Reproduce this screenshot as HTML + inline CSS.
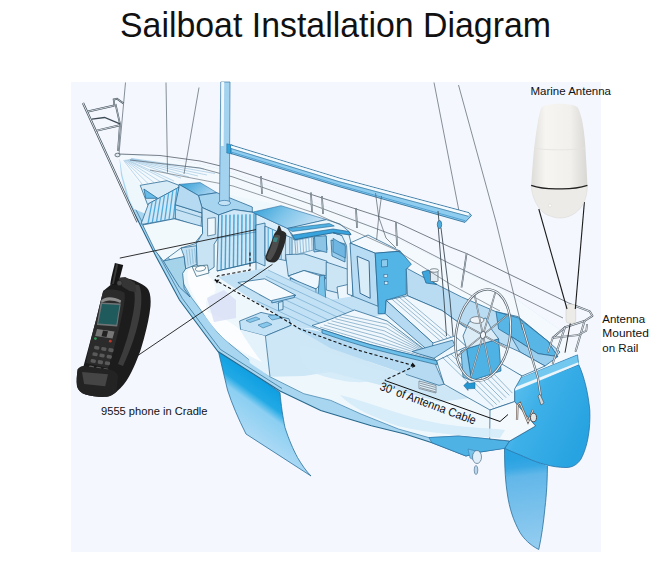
<!DOCTYPE html>
<html><head><meta charset="utf-8">
<style>
html,body{margin:0;padding:0;background:#fff;}
body{width:651px;height:568px;overflow:hidden;font-family:"Liberation Sans",sans-serif;}
svg{display:block;}
text{font-family:"Liberation Sans",sans-serif;fill:#111;}
</style></head><body>
<svg width="651" height="568" viewBox="0 0 651 568">
<defs>
<linearGradient id="gKeel" gradientUnits="userSpaceOnUse" x1="250" y1="370.9" x2="215" y2="419.5">
<stop offset="0" stop-color="#0f9fe2"/><stop offset="0.27" stop-color="#21a9e5"/><stop offset="0.42" stop-color="#8bcff2"/><stop offset="1" stop-color="#b4dcf5"/>
</linearGradient>
<linearGradient id="gRud" gradientUnits="userSpaceOnUse" x1="520" y1="458" x2="531" y2="549">
<stop offset="0" stop-color="#2aa3e2"/><stop offset="0.1" stop-color="#38a8e4"/><stop offset="0.2" stop-color="#62b7e9"/><stop offset="1" stop-color="#95cdf0"/>
</linearGradient>
<linearGradient id="gStern" x1="0" y1="0" x2="1" y2="0.6">
<stop offset="0" stop-color="#6cc6f0"/><stop offset="0.45" stop-color="#3db0e8"/><stop offset="1" stop-color="#27a3e1"/>
</linearGradient>
<linearGradient id="gAnt" x1="0" y1="0" x2="1" y2="0">
<stop offset="0" stop-color="#dedcd8"/><stop offset="0.25" stop-color="#f6f5f2"/><stop offset="0.7" stop-color="#f2f0ed"/><stop offset="1" stop-color="#d9d7d3"/>
</linearGradient>
<linearGradient id="gRoof1" x1="0" y1="0" x2="1" y2="0.4">
<stop offset="0" stop-color="#2f9ed6"/><stop offset="1" stop-color="#a5d3f0"/>
</linearGradient>
<linearGradient id="gRoof2" x1="0" y1="0" x2="1" y2="0.3">
<stop offset="0" stop-color="#2f9ed6"/><stop offset="0.5" stop-color="#80c5ea"/><stop offset="1" stop-color="#c2e0f4"/>
</linearGradient>
</defs>
<!-- BG -->
<rect x="71" y="82" width="530" height="470" fill="#f4f7fe"/>
<!-- TITLE -->
<text x="120" y="37" font-size="34.5" textLength="431" lengthAdjust="spacingAndGlyphs">Sailboat Installation Diagram</text>
<!-- LABELS -->
<text x="530.5" y="95" font-size="11" textLength="80.5" lengthAdjust="spacingAndGlyphs">Marine Antenna</text>
<text x="602.3" y="322.7" font-size="10.8" textLength="42.8" lengthAdjust="spacingAndGlyphs">Antenna</text>
<text x="602.3" y="337" font-size="10.8" textLength="46.5" lengthAdjust="spacingAndGlyphs">Mounted</text>
<text x="602.3" y="351.5" font-size="10.8" textLength="36" lengthAdjust="spacingAndGlyphs">on Rail</text>
<text x="101" y="415.4" font-size="11.2" textLength="106.5" lengthAdjust="spacingAndGlyphs">9555 phone in Cradle</text>
<!-- KEEL -->
<g id="keel">
<path d="M217.5,347.5 L280,392.5 C281,405 283,418 285,427.5 C289,440 293,449 297.5,457.5 C302,465 306,471 311,476 L246,434 C238,418 232,404 227.5,390 Z" fill="url(#gKeel)" stroke="#2a6f9a" stroke-width="0.8"/>
</g>
<!-- RUDDER -->
<g id="rudder">
<path d="M504.5,447 L547.5,458 C547.5,480 546.5,495 545,507.5 C543.5,523 541.5,537 538.75,549.5 C530,545 524,539 520,532.5 C513,520 509.5,508 507.5,495 C505.5,482 504.5,469 504.5,447 Z" fill="url(#gRud)" stroke="#2a6f9a" stroke-width="0.8"/>
</g>
<!-- HULL -->
<g id="hull">
<!-- outer band -->
<path d="M119,154 L121,175 L127.7,200 L155.5,255.5 L179.5,300 L207,337 L218,351.5 L280,391 L320.7,410.5 L371.4,425.8 L405,434 L432,442.7 L466,456 L480,452 L505,448 L527,458 L546.7,465.7 L566,467 L578.7,460 L587.3,438.6 L589.3,414 L586.5,389.3 L578.7,364.6 L577.5,354.8 L560,330 L503,290 L440,260 L400,240 L330,208 L241,176 L220,169 L188,162 L153,156.5 Z" fill="#a8d6f1"/>
<path d="M127.7,200 L155.5,255.5 L179.5,300 L207,337 L218,351.5 L280,391 L320.7,410.5 L371.4,425.8 L405,434 L432,442.7 L466,456 L480,452 L505,448" fill="none" stroke="#28688c" stroke-width="1.1"/>
<path d="M130.5,199 L158.3,254.3 L182.2,298.3 L209.5,335 L220.5,349.5 L282,388.5" fill="none" stroke="#28688c" stroke-width="0.7"/>
<!-- inner light area -->
<path d="M119,154 L122.5,176 L129.5,200 L134,209 L146,214 L167,255 L191,297 L218,333 L231,345 L270,376.8 L303.8,393.7 L330.8,400.4 L361,414 L398.4,429 L428.8,437.6 L459,436 L489.7,439 L509.7,441 L535.6,426 L514.6,404 L514.6,389 L509.7,382 L560,352 L577.5,354.8 L560,330 L503,290 L440,260 L400,240 L330,208 L241,176 L220,169 L188,162 L153,156.5 Z" fill="#eef7fc"/>
<path d="M146,214 L167,255 L191,297 L218,333 L231,345 L270,376.8 L303.8,393.7 L330.8,400.4 L361,414 L398.4,429 L428.8,437.6 L459,436 L489.7,439 L509.7,441" fill="none" stroke="#3a7ca8" stroke-width="0.7"/>
<!-- darker band near prop -->
<path d="M428.8,437.6 L459,436 L489.7,439 L509.7,441 L504.8,448.4 L480,452 L466,456 L432,442.7 Z" fill="#4eb2e4" stroke="#2a72a8" stroke-width="0.6"/>
<!-- prop -->
<path d="M468,449 L480,452 L478,462 L470,458 Z" fill="#78c3ea" stroke="#2a72a8" stroke-width="0.5"/>
<ellipse cx="477" cy="457" rx="4.5" ry="6.5" fill="#dfeef8" stroke="#4a6a85" stroke-width="0.7"/>
<ellipse cx="476" cy="470" rx="1.8" ry="4.5" fill="#b9d7ec" stroke="#4a6a85" stroke-width="0.6"/>
<!-- stern -->
<path d="M514.6,389.3 L578.7,364.6 C584,376 588,392 589.8,410 C590.5,428 588,446 581,459 C577,465 572,467.5 566,467.5 C552,467.5 538,463 527,458 C518,454 510,451 504.8,448.4 L509.7,441 L535.6,426 L514.6,401.6 Z" fill="url(#gStern)" stroke="#2a72a8" stroke-width="0.8"/>
<path d="M509.7,381.9 L577.5,354.8 L578.7,364.6 L514.6,389.3 Z" fill="#73c8f0" stroke="#2a72a8" stroke-width="0.7"/>
<path d="M513,388 L578.3,362.3 L578.7,364.6 L514.6,391 Z" fill="#eaf5fc"/>
</g>
<!-- INTERIOR -->
<g id="interior">
<path d="M116,155 L153,156.5 L188,162 L220,169 L241,176 L330,208 L400,240 L440,260 L503,290 L560,330 L578,354 L510,382 L440,330 L350,243 L281,205.7 L179,184.4 L167,180.7 L140.2,185.3 Z" fill="#f3f9fd"/>
<path d="M123.52,160.24 L142,184" fill="none" stroke="#8bbcdc" stroke-width="0.55"/>
<path d="M124.24,160.18 L148,183.5" fill="none" stroke="#8bbcdc" stroke-width="0.55"/>
<path d="M124.96,160.06 L154,182.5" fill="none" stroke="#8bbcdc" stroke-width="0.55"/>
<path d="M125.68,159.94 L160,181.5" fill="none" stroke="#8bbcdc" stroke-width="0.55"/>
<path d="M126.52,159.82 L167,180.5" fill="none" stroke="#8bbcdc" stroke-width="0.55"/>
<path d="M127.36,159.88 L174,181" fill="none" stroke="#8bbcdc" stroke-width="0.55"/>
<path d="M128.2,159.52 L181,178" fill="none" stroke="#8bbcdc" stroke-width="0.55"/>
<path d="M129.16,159.4 L189,177" fill="none" stroke="#8bbcdc" stroke-width="0.55"/>
<path d="M130.24,159.28 L198,176" fill="none" stroke="#8bbcdc" stroke-width="0.55"/>
<path d="M131.32,159.16 L207,175" fill="none" stroke="#8bbcdc" stroke-width="0.55"/>
<path d="M132.28,158.98 L215,173.5" fill="none" stroke="#8bbcdc" stroke-width="0.55"/>
<path d="M130.96,158.44 L204,169" fill="none" stroke="#8bbcdc" stroke-width="0.55"/>
<path d="M140.2,185.3 L167,180.7 L179,185.3 L179,187.2 L148.5,203.8 L147.6,204.7 Z" fill="#d8ecf8" stroke="#24648f" stroke-width="0.75"/>
<path d="M143.9,189 L157.7,198.3 L145.7,198.3 Z" fill="#66bce8" stroke="#24648f" stroke-width="0.75"/>
<path d="M148.5,203.8 L179,187.2 L175.3,218.6 L143.9,224.1 L141,224 Z" fill="#cfe7f6" stroke="#24648f" stroke-width="0.75"/>
<path d="M152.1,201.9 L148.1,223.2" fill="none" stroke="#4fabdc" stroke-width="1.3"/>
<path d="M156.2,199.7 L152.3,222.4" fill="none" stroke="#4fabdc" stroke-width="1.3"/>
<path d="M160.4,197.5 L156.5,221.8" fill="none" stroke="#4fabdc" stroke-width="1.3"/>
<path d="M164.5,195.2 L160.7,221.1" fill="none" stroke="#4fabdc" stroke-width="1.3"/>
<path d="M168.6,193.0 L164.8,220.3" fill="none" stroke="#4fabdc" stroke-width="1.3"/>
<path d="M172.8,190.8 L169.0,219.7" fill="none" stroke="#4fabdc" stroke-width="1.3"/>
<path d="M176.9,188.6 L173.2,218.9" fill="none" stroke="#4fabdc" stroke-width="1.3"/>
<path d="M175.3,204.7 L202,213 L201,227 L175.3,218.6 Z" fill="#c6e3f5" stroke="#24648f" stroke-width="0.75"/>
<path d="M176,209.5 L202,217.5" fill="none" stroke="#24648f" stroke-width="0.6"/>
<path d="M142.7,225 L174.2,218.8 L202.6,226.5 L202.6,233.4 L196.4,241.1 L196.4,243.4 L181,248 L163.4,261 L155,250.3 Z" fill="#f2f9fd" stroke="#24648f" stroke-width="0.75"/>
<path d="M163.4,261 L184.2,256.5 L185.7,268.8 L182.6,273.4 L184.2,288.7 L190,297 L179.5,287.2 L170,272 Z" fill="#a5d3ea" stroke="#24648f" stroke-width="0.75"/>
<path d="M181,248 L196.4,245.7 L197.2,264.2 L185.7,268.8 L184.2,256.5 Z" fill="#c3e1f2" stroke="#24648f" stroke-width="0.75"/>
<path d="M186.4,249.8 L188.2,265.6" fill="none" stroke="#6fa9cc" stroke-width="0.6"/>
<path d="M189.1,249.2 L190.8,264.7" fill="none" stroke="#6fa9cc" stroke-width="0.6"/>
<path d="M191.9,248.8 L193.2,263.8" fill="none" stroke="#6fa9cc" stroke-width="0.6"/>
<path d="M194.6,248.2 L195.8,262.9" fill="none" stroke="#6fa9cc" stroke-width="0.6"/>
<path d="M179,184.4 L200.2,182.6 L216.9,192.7 L198.4,195.5 Z" fill="url(#gRoof1)" stroke="#2f6f9f" stroke-width="0.6"/>
<path d="M198.4,195.5 L216.9,192.7 L252.3,207 L252.3,212.2 L234,209.5 L218.7,215 L202,207.5 Z" fill="#a7d4ef" stroke="#24648f" stroke-width="0.75"/>
<path d="M179,184.4 L198.4,195.5 L202,207.5 L202,213 L175.3,204.7 L179,187.2 Z" fill="#b5daf2" stroke="#24648f" stroke-width="0.75"/>
<path d="M202,207.5 L218.7,215 L218,238 L214.1,244.2 L214.1,267.2 L207.2,271.8 L197.2,265.7 L196.4,243.4 L202.6,233.4 Z" fill="#c8e3f4" stroke="#24648f" stroke-width="0.75"/>
<path d="M207.6,218.4 L215.3,217.6 L215.3,234.5 L207.6,236 Z" fill="#eef7fc" stroke="#4a7a98" stroke-width="0.8"/>
<path d="M218.7,215 L234,209.5 L252.3,212.2 L256,214 L256,262 L217,271 Z" fill="#cfe7f6" stroke="#24648f" stroke-width="0.75"/>
<path d="M222.0,214.9 L221.1,269.6" fill="none" stroke="#43a4d8" stroke-width="1.4"/>
<path d="M226.0,214.8 L225.2,268.7" fill="none" stroke="#43a4d8" stroke-width="1.4"/>
<path d="M230.0,214.7 L229.3,267.8" fill="none" stroke="#43a4d8" stroke-width="1.4"/>
<path d="M234.0,214.6 L233.4,266.9" fill="none" stroke="#43a4d8" stroke-width="1.4"/>
<path d="M238.0,214.5 L237.5,266.0" fill="none" stroke="#43a4d8" stroke-width="1.4"/>
<path d="M242.0,214.4 L241.6,265.1" fill="none" stroke="#43a4d8" stroke-width="1.4"/>
<path d="M246.0,214.3 L245.7,264.2" fill="none" stroke="#43a4d8" stroke-width="1.4"/>
<path d="M250.0,214.2 L249.8,263.3" fill="none" stroke="#43a4d8" stroke-width="1.4"/>
<path d="M254.0,214.1 L253.9,262.4" fill="none" stroke="#43a4d8" stroke-width="1.4"/>
<path d="M217,271 L256,262" fill="none" stroke="#24648f" stroke-width="0.7"/>
<path d="M218,238 L256,232" fill="none" stroke="#24648f" stroke-width="0.5"/>
<path d="M256,214 L288.4,228.8 L294,240 L340,230 L350,243 L353.1,296.3 L320,312 L300,320 L256,300 Z" fill="#dceef9" stroke="#24648f" stroke-width="0.75"/>
<path d="M256,225 L265,223 L265,266 L256,262 Z" fill="#bfe0f4" stroke="#24648f" stroke-width="0.75"/>
<path d="M265,226 L292,238 L292,262 L265,256 Z" fill="#cfe7f6" stroke="#24648f" stroke-width="0.75"/>
<path d="M268.2,227.9 L268.2,255.6" fill="none" stroke="#4fabdc" stroke-width="1.1"/>
<path d="M272.5,229.8 L272.5,256.8" fill="none" stroke="#4fabdc" stroke-width="1.1"/>
<path d="M276.8,231.6 L276.8,257.9" fill="none" stroke="#4fabdc" stroke-width="1.1"/>
<path d="M281.2,233.4 L281.2,259.1" fill="none" stroke="#4fabdc" stroke-width="1.1"/>
<path d="M285.5,235.2 L285.5,260.2" fill="none" stroke="#4fabdc" stroke-width="1.1"/>
<path d="M289.8,237.1 L289.8,261.4" fill="none" stroke="#4fabdc" stroke-width="1.1"/>
<path d="M313,238 L326,236 L327,250 L314,252 Z" fill="#9acdec" stroke="#24648f" stroke-width="0.75"/>
<path d="M331,240 L345,244 L345,262 L332,256 Z" fill="#9acdec" stroke="#24648f" stroke-width="0.75"/>
<path d="M285.5,254.7 L304,253.8 L327,261.2 L326.2,276 L304,270.5 L288.3,276 Z" fill="#c9e4f5" stroke="#24648f" stroke-width="0.75"/>
<path d="M288.3,276 L304,270.5 L326.2,277.8 L316,289 L300,283 Z" fill="#eef7fd" stroke="#24648f" stroke-width="0.75"/>
<path d="M290,278 L316,289 L316,300 L292,287 Z" fill="#b5daf2" stroke="#24648f" stroke-width="0.75"/>
<path d="M319.7,276 L324.3,275 L326.2,307.4 L310.5,319.8 L308.6,307.4 L317.8,296.3 Z" fill="#78c3ea" stroke="#24648f" stroke-width="0.75"/>
<path d="M326.2,262 L350,270 L350,296 L326.2,290 Z" fill="#cbe5f5" stroke="#24648f" stroke-width="0.75"/>
<path d="M337,287 L350,284 L352,300 L339,303 Z" fill="#eef7fd" stroke="#24648f" stroke-width="0.75"/>
<path d="M218,276.9 L250,271 L263.2,268.3 L299.6,284 L330,300 L353.1,296.3 L378.2,306.3 L385,313.7 L330,330 L299.6,327.4 L260,305 Z" fill="#c2e1f5"/>
<path d="M268.0,270.0 L354.0,310.4" fill="none" stroke="#5f9cc4" stroke-width="0.55"/>
<path d="M265.8,276.2 L351.8,316.6" fill="none" stroke="#5f9cc4" stroke-width="0.55"/>
<path d="M263.6,282.4 L349.6,322.8" fill="none" stroke="#5f9cc4" stroke-width="0.55"/>
<path d="M261.4,288.6 L347.4,329.0" fill="none" stroke="#5f9cc4" stroke-width="0.55"/>
<path d="M259.2,294.8 L345.2,335.2" fill="none" stroke="#5f9cc4" stroke-width="0.55"/>
<path d="M257.0,301.0 L343.0,341.4" fill="none" stroke="#5f9cc4" stroke-width="0.55"/>
<path d="M237.9,282.5 L264.6,278.8 L296,295.4 L273,301.9 Z" fill="#f4fafe" stroke="#24648f" stroke-width="0.75"/>
<path d="M271.8,300.5 L294.4,295.2 L294.4,297.5 L271.8,303 Z" fill="#a5d3f0" stroke="#24648f" stroke-width="0.75"/>
<path d="M278.5,302.5 L283,301.3 L283,309.5 L278.5,310.5 Z" fill="#cfe7f6" stroke="#24648f" stroke-width="0.75"/>
<path d="M239.6,321 L261,312.4 L289,318.8 L291.2,325.3 L265.4,336 L240.6,329.6 Z" fill="#c4e2f5" stroke="#24648f" stroke-width="0.75"/>
<path d="M265.4,336 L291.2,325.3 L330,335 L368.7,361.7 L418.2,378.9 L444,385.4 L470,398 L440,402 L380,385 L330,372 L303.8,376 L270,376.8 Z" fill="#cde7f6"/>
<path d="M265.4,336 L291.2,325.3" fill="none" stroke="#24648f" stroke-width="0.7"/>
<path d="M240.6,329.6 L265.4,336 L270,376.8 L250,363 Z" fill="#e3f2fb"/>
<path d="M265.4,336 L270,376.8" fill="none" stroke="#24648f" stroke-width="0.7"/>
<path d="M246,320.5 L256,317 L260,319 L250,322.5 Z" fill="#87c8ec" stroke="#24648f" stroke-width="0.5"/>
<path d="M258,325 L267,322 L272,324.5 L263,328 Z" fill="#87c8ec" stroke="#24648f" stroke-width="0.5"/>
<path d="M268,316 L277,314.5 L281,318 L272,320 Z" fill="#87c8ec" stroke="#24648f" stroke-width="0.5"/>
<path d="M188,270 C195,266 205,268 208,276 C214,280 218,288 214,294 C206,296 204,304 208,312 C218,316 232,322 240,330 C246,340 254,352 262,362 C252,358 240,350 228,342 C214,330 204,316 196,300 C190,290 186,280 188,270 Z" fill="#fbfdff"/>
<path d="M207,298 L224,290 L236,300 L236,318 L214,322 Z" fill="#d9dff5" opacity="0.8"/>
<path d="M192,266.5 L207.5,265 L209,273 L196.5,276.5 Z" fill="#f6fbfe" stroke="#3a6a80" stroke-width="0.8"/>
<ellipse cx="200.5" cy="268.5" rx="5.2" ry="2.6" fill="#fdfefe" stroke="#3a6a80" stroke-width="0.7" transform="rotate(-8 200.5 268.5)"/>
<path d="M252.3,212.2 L281,205.7 L326.3,219.6 L288.4,228.8 Z" fill="url(#gRoof2)" stroke="#2f6f9f" stroke-width="0.6"/>
<path d="M287.4,228.4 L326.3,219.6 L340,224 L349,231.5 L350.9,234.6 L341.7,235.2 L333,232.7 L294.8,239.5 L292,234 Z" fill="#eaf5fc" stroke="#24648f" stroke-width="0.75"/>
<path d="M287.4,228.4 L329.3,223.5 L334.3,226 L292.3,231.5 Z" fill="#4fb0e2" stroke="#24648f" stroke-width="0.6"/>
<path d="M292.3,235.2 L333,229 L349,231.5 L350.9,234.6 L341.7,235.2 L333,232.7 L294.8,239.5 Z" fill="#38a3dd" stroke="#24648f" stroke-width="0.7"/>
<path d="M333,232.7 L341.7,235.2 L346.6,245.7 L347.2,259.3 L347.4,294 L353,296 L351,243 L349,234.8 Z" fill="#e8f4fb" stroke="#24648f" stroke-width="0.75"/>
<path d="M333,238.3 L345.3,245.7 L345.3,258 L333,251.9 Z" fill="#6fb6e2" stroke="#24648f" stroke-width="0.6"/>
<path d="M314.5,236.4 L326.2,235.8 L326.9,252.5 L315.1,249.4 Z" fill="#8cc4e6" stroke="#24648f" stroke-width="0.7"/>
<path d="M294.8,240.5 L313,237 L313.5,250 L296,254.5 Z" fill="#e3f1fa" stroke="#24648f" stroke-width="0.5"/>
<path d="M297.0,240.1 L297.9,253.9" fill="none" stroke="#5a9cc8" stroke-width="0.6"/>
<path d="M299.9,239.6 L300.8,253.2" fill="none" stroke="#5a9cc8" stroke-width="0.6"/>
<path d="M302.8,239.0 L303.6,252.5" fill="none" stroke="#5a9cc8" stroke-width="0.6"/>
<path d="M305.7,238.4 L306.4,251.8" fill="none" stroke="#5a9cc8" stroke-width="0.6"/>
<path d="M308.6,237.8 L309.2,251.1" fill="none" stroke="#5a9cc8" stroke-width="0.6"/>
<path d="M311.5,237.3 L312.1,250.4" fill="none" stroke="#5a9cc8" stroke-width="0.6"/>
<path d="M350,243 L368,235 L400.2,251.2 L375.2,253.2 Z" fill="#f3f9fd" stroke="#24648f" stroke-width="0.75"/>
<path d="M350,243 L375.2,253.2 L378.2,306.3 L353.1,296.3 Z" fill="#b8dcf3" stroke="#24648f" stroke-width="0.75"/>
<path d="M357.1,256.2 L369.1,261.2 L370.2,298.3 L360.1,293.3 Z" fill="#d9edf9" stroke="#2a5f8a" stroke-width="0.9"/>
<path d="M375.2,253.2 L400.2,251.2 L411.3,264.2 L406.3,269.2 L406.3,294.3 L386.2,300.3 L385.2,313.7 L378.2,313.7 L378.2,306.3 Z" fill="#53b5e6" stroke="#24648f" stroke-width="0.75"/>
<rect x="381.5" y="260" width="6" height="7" fill="#8acbee" stroke="#2a5f8a" stroke-width="0.6" transform="skewY(-5)" transform-origin="381.5 260"/>
<rect x="384" y="274.5" width="3.4" height="3" fill="#cfe7f6" stroke="#2a5f8a" stroke-width="0.5"/>
<rect x="384.5" y="281.5" width="3.4" height="3" fill="#cfe7f6" stroke="#2a5f8a" stroke-width="0.5"/>
<path d="M407.4,268.6 L439.4,285.8 L461.6,297 L496,311.7 L518,316.6 L548,341.3 L560,352 L555.7,357 L510,382 L470,350 L464,326.5 L442,310.5 L407.4,295.7 L406.3,269.2 Z" fill="#b9dcf3" stroke="#24648f" stroke-width="0.75"/>
<path d="M496,311.7 L518.3,317.9 L548,341.3 L557.8,356.6 L538,353.6 L511,336.4 L498.6,329 Z" fill="#57b6e6" stroke="#24648f" stroke-width="0.75"/>
<path d="M511,336.4 L538,353.6 L557.8,356.6 L545,366 L520,352 Z" fill="#99ceee" stroke="#24648f" stroke-width="0.75"/>
<path d="M386.2,300.3 L407.4,295.7 L442,310.5 L464,326.5 L520,352 L545,366 L522,376 L470,350 L455,336 L433,343 Z" fill="#f1f8fd" stroke="#24648f" stroke-width="0.75"/>
<path d="M391.9,299.1 L439.9,340.4" fill="none" stroke="#4d86ad" stroke-width="0.55"/>
<path d="M395.6,298.3 L443.6,339.3" fill="none" stroke="#4d86ad" stroke-width="0.55"/>
<path d="M399.4,297.4 L447.4,338.2" fill="none" stroke="#4d86ad" stroke-width="0.55"/>
<path d="M403.1,296.6 L451.1,337.1" fill="none" stroke="#4d86ad" stroke-width="0.55"/>
<path d="M386.2,300.3 L433,343 L431,353 L385.2,313.7 Z" fill="#b5daf2" stroke="#24648f" stroke-width="0.75"/>
<path d="M312,325.5 L326,321 L354.4,310 L387,320.9 L429,353 L436.6,360.8 L400,352 L370,344.5 L345,337 L322,329.5 Z" fill="#f1f8fd" stroke="#24648f" stroke-width="0.75"/>
<path d="M343.1,314.6 L387.3,324.2 L429.5,353.5" fill="none" stroke="#4d86ad" stroke-width="0.55"/>
<path d="M339.2,316.7 L385.9,327.5 L430.5,354.6" fill="none" stroke="#4d86ad" stroke-width="0.55"/>
<path d="M335.4,318.7 L384.4,330.9 L431.5,355.6" fill="none" stroke="#4d86ad" stroke-width="0.55"/>
<path d="M331.5,320.8 L383.0,334.2 L432.5,356.6" fill="none" stroke="#4d86ad" stroke-width="0.55"/>
<path d="M327.6,322.9 L381.6,337.6 L433.5,357.7" fill="none" stroke="#4d86ad" stroke-width="0.55"/>
<path d="M323.8,324.9 L380.1,341.0 L434.5,358.7" fill="none" stroke="#4d86ad" stroke-width="0.55"/>
<path d="M319.9,327.0 L378.7,344.3 L435.5,359.8" fill="none" stroke="#4d86ad" stroke-width="0.55"/>
<path d="M412,351.5 L452.6,340.2 L454.7,345 L434,358.3 L419.3,354 Z" fill="#a5d3f0" stroke="#24648f" stroke-width="0.75"/>
<path d="M436.6,360.8 L470,345 L522,376 L514.6,389 L514.6,401.6 L490,410 L444,384.2 Z" fill="#eef7fd" stroke="#24648f" stroke-width="0.75"/>
<path d="M442.1,357.1 L493.6,406.9" fill="none" stroke="#4d86ad" stroke-width="0.55"/>
<path d="M446.4,355.4 L496.7,404.6" fill="none" stroke="#4d86ad" stroke-width="0.55"/>
<path d="M450.7,353.7 L499.9,402.3" fill="none" stroke="#4d86ad" stroke-width="0.55"/>
<path d="M455.0,352.0 L503.0,400.0" fill="none" stroke="#4d86ad" stroke-width="0.55"/>
<path d="M459.3,350.3 L506.1,397.7" fill="none" stroke="#4d86ad" stroke-width="0.55"/>
<path d="M463.6,348.6 L509.3,395.4" fill="none" stroke="#4d86ad" stroke-width="0.55"/>
<path d="M467.9,346.9 L512.4,393.1" fill="none" stroke="#4d86ad" stroke-width="0.55"/>
<path d="M466.6,348.7 L498.6,338.8 L501,370.9 L471.5,380.7 Z" fill="#4eb2e4" stroke="#24648f" stroke-width="0.75"/>
<path d="M466.6,348.7 L471.5,380.7 L463,377 L461,351 Z" fill="#87c8ec" stroke="#24648f" stroke-width="0.75"/>
<path d="M469,322 L486,318 L492,330 L498.6,338.8 L466.6,348.7 L463,336 Z" fill="#dcecf6" stroke="#24648f" stroke-width="0.75"/>
<ellipse cx="477" cy="320" rx="7" ry="3.4" fill="#eef3f7" stroke="#55606a" stroke-width="0.7"/>
<path d="M291.2,325.3 L299.6,327.4 L322,332 L345,340 L370,348 L400,355.5 L435.4,364.5 L444,384.2 L439,385.4 L405.8,374.3 L370,362 L330,348 Z" fill="#b5daf2"/>
<path d="M435.4,364.5 L444,384.2 L439,385.4 L405.8,374.3" fill="none" stroke="#24648f" stroke-width="0.7"/>
<path d="M322,329.5 L345,337 L370,344.5 L400,352 L436.6,360.8 L437.2,364.8 L400,355.8 L370,348.2 L345,340.6 L322,333 Z" fill="#6cc0ea" stroke="#24648f" stroke-width="0.7"/>
<path d="M419,381 L436,385.5 L436,393 L419,388.5 Z" fill="#dfeff9" stroke="#55606a" stroke-width="0.6"/>
<path d="M420,383.2 L435.5,387.4" fill="none" stroke="#55606a" stroke-width="0.6"/>
<path d="M420,385.4 L435.5,389.59999999999997" fill="none" stroke="#55606a" stroke-width="0.6"/>
<path d="M420,387.59999999999997 L435.5,391.79999999999995" fill="none" stroke="#55606a" stroke-width="0.6"/>
<path d="M422,272 L429,270 L433,282 L437,284.5 L426,283 Z" fill="#3ca5dc" stroke="#24648f" stroke-width="0.75"/>
<rect x="430.5" y="270.5" width="7.5" height="11" rx="1" fill="#dfeaf2" stroke="#55606a" stroke-width="0.7"/>
<ellipse cx="434.2" cy="270.5" rx="4.4" ry="1.8" fill="#f4f8fb" stroke="#55606a" stroke-width="0.7"/>
<path d="M463.7,385.6 L468,381.5 L468,383.5 L475,382.5 L475,388.5 L468,388.8 L468,390.5 Z" fill="#2196d0" stroke="#1f5f8f" stroke-width="0.5"/>
<path d="M514.6,401.6 L535.6,426 L509.7,441 L489.7,439 L490,410 Z" fill="#f4f9fd" stroke="#24648f" stroke-width="0.75"/>
<path d="M517,420 L517.5,405 L520,403 L528,422 L533,410" fill="none" stroke="#6a5a50" stroke-width="2.2"/>
<path d="M517,420 L517.5,405 L520,403 L528,422 L533,410" fill="none" stroke="#f0ece8" stroke-width="0.9"/>
<ellipse cx="533.5" cy="417.5" rx="3" ry="4.2" fill="#e6e6e6" stroke="#4a4a4a" stroke-width="1"/>
<path d="M300,345 C330,350 360,365 385,372 C380,385 350,385 320,375 C305,370 298,358 300,345 Z" fill="#cfe8f7" opacity="0.8"/>
<path d="M340,395 C370,402 410,420 450,425 C470,428 490,428 505,430 L500,438 C470,436 430,434 398,426 C375,418 352,408 340,395 Z" fill="#d4ebf8" opacity="0.9"/>
</g>
<!-- RIG -->
<g id="rig">
<path d="M125.5,82.5 L119,154" fill="none" stroke="#55606a" stroke-width="0.7"/>
<path d="M166,82.5 L167.5,172.5" fill="none" stroke="#55606a" stroke-width="0.7"/>
<path d="M199,87.5 L184,174" fill="none" stroke="#55606a" stroke-width="0.7"/>
<path d="M434,82.5 L459.75,215" fill="none" stroke="#55606a" stroke-width="0.7"/>
<path d="M458.5,85 L496,221.75 L522.5,330" fill="none" stroke="#55606a" stroke-width="0.7"/>
<path d="M83,103 L137.5,222" fill="none" stroke="#3c4a55" stroke-width="2.2"/>
<path d="M83,103 L137.5,222" fill="none" stroke="#f4f8fc" stroke-width="0.9"/>
<path d="M88,111.5 L114.4,105.5" fill="none" stroke="#3c4a55" stroke-width="2.0"/>
<path d="M88,111.5 L114.4,105.5" fill="none" stroke="#f4f8fc" stroke-width="0.8"/>
<path d="M96.8,130.6 L120,125.2" fill="none" stroke="#3c4a55" stroke-width="2.0"/>
<path d="M96.8,130.6 L120,125.2" fill="none" stroke="#f4f8fc" stroke-width="0.8"/>
<path d="M114.4,105.5 L113.7,99.5 L117,98.8 L123.6,103.4" fill="none" stroke="#3c4a55" stroke-width="1.8"/>
<path d="M114.4,105.5 L113.7,99.5 L117,98.8 L123.6,103.4" fill="none" stroke="#f4f8fc" stroke-width="0.6"/>
<path d="M115.5,104 L120,124 L118,151" fill="none" stroke="#3c4a55" stroke-width="1.7"/>
<path d="M115.5,104 L120,124 L118,151" fill="none" stroke="#f4f8fc" stroke-width="0.6"/>
<path d="M91.8,119.2 L104.6,117.5 L120,123.8" fill="none" stroke="#3c4a55" stroke-width="1.3"/>
<ellipse cx="117.5" cy="155" rx="2.6" ry="1.8" fill="#dfe8ee" stroke="#3c4a55" stroke-width="0.7"/>
<path d="M119,154 L160,155.5 L200,161 L233,169 L313,195 L396,222 L450,247 L466.6,253.5 L515,277 L568.7,303 L589.8,311.4" fill="none" stroke="#55606a" stroke-width="0.8"/>
<path d="M130,160 L200,168 L233,177 L313,205 L396,236 L450,263.7 L511,292.3 L563,318" fill="none" stroke="#55606a" stroke-width="0.7"/>
<path d="M150,170 L233,186 L313,212.5 L396,250 L450,284 L500,311" fill="none" stroke="#55606a" stroke-width="0.6"/>
<path d="M261,176 L262,194" fill="none" stroke="#3c4a55" stroke-width="1.6"/>
<path d="M261,176 L262,194" fill="none" stroke="#f4f8fc" stroke-width="0.6"/>
<path d="M311,192.5 L312,212" fill="none" stroke="#3c4a55" stroke-width="1.6"/>
<path d="M311,192.5 L312,212" fill="none" stroke="#f4f8fc" stroke-width="0.6"/>
<path d="M322,196 L323,214" fill="none" stroke="#3c4a55" stroke-width="1.6"/>
<path d="M322,196 L323,214" fill="none" stroke="#f4f8fc" stroke-width="0.6"/>
<path d="M356,208 L357,228" fill="none" stroke="#3c4a55" stroke-width="1.6"/>
<path d="M356,208 L357,228" fill="none" stroke="#f4f8fc" stroke-width="0.6"/>
<path d="M396,222 L397,246" fill="none" stroke="#3c4a55" stroke-width="1.6"/>
<path d="M396,222 L397,246" fill="none" stroke="#f4f8fc" stroke-width="0.6"/>
<path d="M466.6,253.5 L461.5,287.5" fill="none" stroke="#3c4a55" stroke-width="1.6"/>
<path d="M466.6,253.5 L461.5,287.5" fill="none" stroke="#f4f8fc" stroke-width="0.6"/>
<path d="M220.75,82 L230,82 L229.3,203 C227,205.5 222,205.5 219.5,203 Z" fill="#a4d3f0" stroke="#3a78a5" stroke-width="0.7"/>
<path d="M221.3,82 L224.2,82 L223.6,146 L221,146 Z" fill="#f1f8fd"/>
<ellipse cx="224.4" cy="203" rx="6.2" ry="2.6" fill="#c4e2f5" stroke="#3a78a5" stroke-width="0.7"/>
<path d="M226.75,143.75 L232.5,145 L232.5,154 L226.75,153 Z" fill="#31a4dc" stroke="#2a6a9a" stroke-width="0.5"/>
<path d="M231,145 L340,178.3 L469,212.7 L471.5,215.5 L465,222.4 L340,186.9 L231,153.5 Z" fill="#8fcdf0" stroke="#24648f" stroke-width="0.8"/>
<path d="M231,145.5 L340,178.8 L469,213.2 L468.4,216 L340,181.6 L231,148.2 Z" fill="#f5fafd"/>
<path d="M231,148.5 L340,181.9 L468.4,216.3" fill="none" stroke="#24648f" stroke-width="0.6"/>
<path d="M231,152 L340,185.4 L465.5,220.8" fill="none" stroke="#4a9ccf" stroke-width="0.9"/>
<path d="M438,211 L439,222" fill="none" stroke="#3c4a55" stroke-width="0.9"/>
<ellipse cx="439.5" cy="224.5" rx="2.2" ry="4" fill="#4eaee0" stroke="#2f4f6a" stroke-width="0.6"/>
<path d="M438.3,228 L444,300 L446.5,336" fill="none" stroke="#3c4a55" stroke-width="0.9"/>
<path d="M441,228 L450,300 L453,336" fill="none" stroke="#3c4a55" stroke-width="0.9"/>
<path d="M375.5,193 L378.7,217 L376.6,240" fill="none" stroke="#55606a" stroke-width="0.7"/>
<path d="M381.5,196 L378.7,217 L386,238 L396,248" fill="none" stroke="#55606a" stroke-width="0.7"/>
<g transform="rotate(9 483 335)">
<line x1="483" y1="335" x2="509.4" y2="344.6" stroke="#55606a" stroke-width="1.6"/>
<line x1="483" y1="335" x2="509.4" y2="344.6" stroke="#f4f8fc" stroke-width="0.6"/>
<line x1="483" y1="335" x2="497.7" y2="373.6" stroke="#55606a" stroke-width="1.6"/>
<line x1="483" y1="335" x2="497.7" y2="373.6" stroke="#f4f8fc" stroke-width="0.6"/>
<line x1="483" y1="335" x2="477.4" y2="380.0" stroke="#55606a" stroke-width="1.6"/>
<line x1="483" y1="335" x2="477.4" y2="380.0" stroke="#f4f8fc" stroke-width="0.6"/>
<line x1="483" y1="335" x2="460.4" y2="360.1" stroke="#55606a" stroke-width="1.6"/>
<line x1="483" y1="335" x2="460.4" y2="360.1" stroke="#f4f8fc" stroke-width="0.6"/>
<line x1="483" y1="335" x2="456.6" y2="325.4" stroke="#55606a" stroke-width="1.6"/>
<line x1="483" y1="335" x2="456.6" y2="325.4" stroke="#f4f8fc" stroke-width="0.6"/>
<line x1="483" y1="335" x2="468.3" y2="296.4" stroke="#55606a" stroke-width="1.6"/>
<line x1="483" y1="335" x2="468.3" y2="296.4" stroke="#f4f8fc" stroke-width="0.6"/>
<line x1="483" y1="335" x2="488.6" y2="290.0" stroke="#55606a" stroke-width="1.6"/>
<line x1="483" y1="335" x2="488.6" y2="290.0" stroke="#f4f8fc" stroke-width="0.6"/>
<line x1="483" y1="335" x2="505.6" y2="309.9" stroke="#55606a" stroke-width="1.6"/>
<line x1="483" y1="335" x2="505.6" y2="309.9" stroke="#f4f8fc" stroke-width="0.6"/>
<ellipse cx="483" cy="335" rx="27" ry="46" fill="none" stroke="#55606a" stroke-width="2.4"/>
<ellipse cx="483" cy="335" rx="27" ry="46" fill="none" stroke="#f4f8fc" stroke-width="1.0"/>
<ellipse cx="483" cy="335" rx="2.6" ry="3.6" fill="#f4f8fc" stroke="#55606a" stroke-width="0.9"/>
</g>
<path d="M575.7,306 L589.8,311.4 L592.4,315.8 L584.5,321 L565,327.2 L552.8,337.8" fill="none" stroke="#55606a" stroke-width="2.0" stroke-linecap="round" stroke-linejoin="round"/>
<path d="M575.7,306 L589.8,311.4 L592.4,315.8 L584.5,321 L565,327.2 L552.8,337.8" fill="none" stroke="#f4f8fc" stroke-width="0.84" stroke-linecap="round" stroke-linejoin="round"/>
<path d="M565,327.2 L552.8,363.3" fill="none" stroke="#55606a" stroke-width="2.0" stroke-linecap="round" stroke-linejoin="round"/>
<path d="M565,327.2 L552.8,363.3" fill="none" stroke="#f4f8fc" stroke-width="0.84" stroke-linecap="round" stroke-linejoin="round"/>
<path d="M584.5,321 L575.7,351" fill="none" stroke="#55606a" stroke-width="2.0" stroke-linecap="round" stroke-linejoin="round"/>
<path d="M584.5,321 L575.7,351" fill="none" stroke="#f4f8fc" stroke-width="0.84" stroke-linecap="round" stroke-linejoin="round"/>
<path d="M552.8,337.8 L577.5,335.2 L586.3,330.7 L587,325" fill="none" stroke="#55606a" stroke-width="1.8" stroke-linecap="round" stroke-linejoin="round"/>
<path d="M552.8,337.8 L577.5,335.2 L586.3,330.7 L587,325" fill="none" stroke="#f4f8fc" stroke-width="0.756" stroke-linecap="round" stroke-linejoin="round"/>
<path d="M552.8,337.8 L548,352" fill="none" stroke="#55606a" stroke-width="1.8" stroke-linecap="round" stroke-linejoin="round"/>
<path d="M552.8,337.8 L548,352" fill="none" stroke="#f4f8fc" stroke-width="0.756" stroke-linecap="round" stroke-linejoin="round"/>
<path d="M522,324 L538,378.3 L540.5,394.8" fill="none" stroke="#55606a" stroke-width="2.2" stroke-linecap="round" stroke-linejoin="round"/>
<path d="M522,324 L538,378.3 L540.5,394.8" fill="none" stroke="#f4f8fc" stroke-width="0.924" stroke-linecap="round" stroke-linejoin="round"/>
<path d="M540,394 L544,403 L541,405 L538,396 Z" fill="#cfd6dc" stroke="#4a4a4a" stroke-width="0.6"/>
<path d="M570.4,322.8 L565,352.7" fill="none" stroke="#1a1a1a" stroke-width="0.9"/>
<rect x="566" y="304.3" width="9.7" height="19" rx="3.2" fill="#ecebe8" stroke="#c9c7c2" stroke-width="0.5"/>
<path d="M250,252.5 L250,270 L217.5,276 L215,280 L260,305 L300,329 L357.5,350 L415,366" fill="none" stroke="#111" stroke-width="1.1" stroke-dasharray="3.2 2.2"/>
<path d="M415,366 L385,380" fill="none" stroke="#111" stroke-width="1.1" stroke-dasharray="3.2 2.2"/>
<path d="M415.5,366 L410.5,366.8 L412.5,362.6 Z" fill="#111"/>
<path d="M215,280 L219.5,279.5 L217,283.5 Z" fill="#111"/>
<path d="M384.7,380.4 L500,421.5 L508,414.5" fill="none" stroke="#111" stroke-width="1.0"/>
</g>
<text transform="translate(379,389.5) rotate(20.3)" font-size="12" textLength="101.5" lengthAdjust="spacingAndGlyphs">30’ of Antenna Cable</text>
<!-- ANTENNA BIG -->
<g id="antenna">
<path d="M538.8,209 L567,309" fill="none" stroke="#1a1a1a" stroke-width="1.1"/>
<path d="M584.4,202 L575.3,309" fill="none" stroke="#1a1a1a" stroke-width="1.1"/>
<path d="M531.2,185.3 C531.5,190 532,192 532.8,194.8 C534.5,201 537,205.5 540,209 C543,213 547,215.3 550.6,216.1 C554,217.5 557,218 560,218 C564,218 568,217 572,215 C576,213 579,210 581.5,206.6 C584,203 585.5,199 586.3,194.8 C587,192 587.3,189 587.4,185.3 Z" fill="#ecebe7" stroke="#d6d4cf" stroke-width="0.5"/>
<circle cx="550" cy="205.5" r="1.6" fill="#fbfbfa" stroke="#d0cec9" stroke-width="0.4"/>
<path d="M540.7,109.3 C542,106 546,104.6 552,104.3 C556,103.6 563,103.6 567,104.3 C573,104.6 577.5,106 578.7,109.3 C580.5,114 581.8,118.5 582.7,123.5 C584.5,134 585.3,144 585.8,154.4 C586.5,165 587,175 587.4,185.3 C578,188.5 568,189 559,188.8 C550,189 540,188.5 531.2,185.3 C531.8,175 532.6,165 533.5,154.4 C534.5,144 535.8,134 537.6,123.5 C538.3,118.5 539.3,114 540.7,109.3 Z" fill="url(#gAnt)"/>
<path d="M533.9,148 C545,150.5 573,150.5 585.5,148" fill="none" stroke="#e4e2de" stroke-width="0.8"/>
<path d="M531.2,185.3 C540,188.5 550,189 559,188.8 C568,189 578,188.5 587.4,185.3" fill="none" stroke="#222" stroke-width="1.3"/>
</g>
<!-- PHONE BIG -->
<g id="phone">
<path d="M119.8,258.1 L256,229.6" fill="none" stroke="#1a1a1a" stroke-width="0.9"/>
<path d="M138.3,355.2 L272.5,264.3" fill="none" stroke="#1a1a1a" stroke-width="0.9"/>
<path d="M121.8,277.8 C128,278 134,280 139.1,282.7 C144,285 147,287 148.5,290 C150.5,294 151,300 150.5,306 C149.5,316 147,327 144.6,336 C142,346 139.5,354 137.6,358 C135,365 132,371 129.2,376.3 C126,382 122,387.5 116.5,391.8 C113,395 110,396.5 106.6,396.8 C100,397.3 92,396.5 85.5,394.6 C81,393 78,390 77,386.2 C76.3,381 76.8,375 77.7,369.3 L83.4,366.5 L96,320 L103.2,291 L110.8,284.7 Z" fill="#1c1c1c"/>
<path d="M132,284 C136,292 135,303 133,314 C130,330 125,347 118,364 L123,366 C131,349 137,331 140,314 C142,302 142,291 139,285 Z" fill="#3c3c3c"/>
<path d="M114.9,263.0 L123.2,264.9 L119.9,277.8 L117.7,284.7 L110.1,284.7 L111.5,277.1 Z" fill="#151515"/>
<path d="M116.2,264 L118.2,264.5 L113.8,284 L112,284 Z" fill="#3a3a3a"/>
<path d="M118.4,277.8 L125.3,277.1 L135,282.7 L136.4,292.3 L129.5,291 L122.5,286.8 Z" fill="#353535"/>
<circle cx="119.5" cy="283" r="2.6" fill="#4a4a4a" stroke="#222" stroke-width="0.5"/>
<path d="M103.2,291 C108,288.5 120,289.5 124.5,293 C125.5,297 124,306 122,315 C119.5,328 114,350 108,367.9 L86,363 C88,350 92,335 96,320 C98.5,310 101,299 103.2,291 Z" fill="#2b2b2b"/>
<path d="M101.1,300.6 C104,297 112,295.5 121.2,300.6 L120.3,303 C112,299.5 106,300 101.5,303 Z" fill="#8d8d8d"/>
<path d="M100.6,302.5 L120.8,303.6 L117.2,326.6 L96.9,325 Z" fill="#6f7476"/>
<path d="M102.1,304.1 L119.5,305 L116.3,324.8 L98.3,323.4 Z" fill="#1f5a5c"/>
<path d="M97,329 L114.5,331.5 L112.5,338.5 L95.2,336 Z" fill="#777"/>
<path d="M103,330.5 L108,331.2 L106.5,337 L101.5,336.3 Z" fill="#222"/>
<circle cx="95.4" cy="338.6" r="1.4" fill="#2f9a55"/>
<circle cx="110.3" cy="341.2" r="1.4" fill="#c0392b"/>
<rect x="94.5" y="345.5" width="5.2" height="3.6" rx="1.2" fill="#5a5a5a" transform="rotate(10 94.5 345.5)"/>
<rect x="101.6" y="346.7" width="5.2" height="3.6" rx="1.2" fill="#5a5a5a" transform="rotate(10 101.6 346.7)"/>
<rect x="108.7" y="347.9" width="5.2" height="3.6" rx="1.2" fill="#5a5a5a" transform="rotate(10 108.7 347.9)"/>
<rect x="92.8" y="352.1" width="5.2" height="3.6" rx="1.2" fill="#5a5a5a" transform="rotate(10 92.8 352.1)"/>
<rect x="99.8" y="353.3" width="5.2" height="3.6" rx="1.2" fill="#5a5a5a" transform="rotate(10 99.8 353.3)"/>
<rect x="107.0" y="354.5" width="5.2" height="3.6" rx="1.2" fill="#5a5a5a" transform="rotate(10 107.0 354.5)"/>
<rect x="91.0" y="358.7" width="5.2" height="3.6" rx="1.2" fill="#5a5a5a" transform="rotate(10 91.0 358.7)"/>
<rect x="98.1" y="359.9" width="5.2" height="3.6" rx="1.2" fill="#5a5a5a" transform="rotate(10 98.1 359.9)"/>
<rect x="105.2" y="361.1" width="5.2" height="3.6" rx="1.2" fill="#5a5a5a" transform="rotate(10 105.2 361.1)"/>
<rect x="89.2" y="365.3" width="5.2" height="3.6" rx="1.2" fill="#5a5a5a" transform="rotate(10 89.2 365.3)"/>
<rect x="96.3" y="366.5" width="5.2" height="3.6" rx="1.2" fill="#5a5a5a" transform="rotate(10 96.3 366.5)"/>
<rect x="103.5" y="367.7" width="5.2" height="3.6" rx="1.2" fill="#5a5a5a" transform="rotate(10 103.5 367.7)"/>
<path d="M77.7,369.3 C79,367 82,365.5 84,366 L109,369.5 C113,370 117,372 118,376 L116.5,391.8 C113,395 110,396.5 106.6,396.8 C100,397.3 92,396.5 85.5,394.6 C81,393 78,390 77,386.2 C76.3,381 76.8,375 77.7,369.3 Z" fill="#232323"/>
<path d="M82,372.1 L108,374.2 L105.2,386.2 L84.1,384.1 Z" fill="#454545"/>
<path d="M278.5,225.6 L279.8,226 L281.7,230.8 C284,231.5 286,232.5 286.4,234 C286.3,238 285,243 283.8,246.7 C282.5,250.5 281,254 279.6,257.2 C278,260 276.5,261.8 274.3,262.5 C272,262.8 270,262.4 268,261.5 C266.3,260.5 265.3,259 265.3,257.2 C266.3,253.5 268,250 269.5,246.7 C271,243 272.5,239 273.8,235 C274.8,233 275.8,231.8 276.9,230.8 Z" fill="#2a2a2a"/>
<path d="M274.6,235.2 C276.5,234.2 279,234.6 280.2,236 C279.5,241 278,246.5 275.8,251.5 C274.2,255 272.5,258 270.8,260 C269,260 267.2,259 266.6,257.4 C268.5,252.5 270.5,248.5 271.8,244.5 C273,241 273.8,238 274.6,235.2 Z" fill="#4d4d4d"/>
<path d="M273.9,237.2 L278,237.7 L276.5,242.2 L272.6,241.5 Z" fill="#3b8585"/>
</g>
</svg>
</body></html>
